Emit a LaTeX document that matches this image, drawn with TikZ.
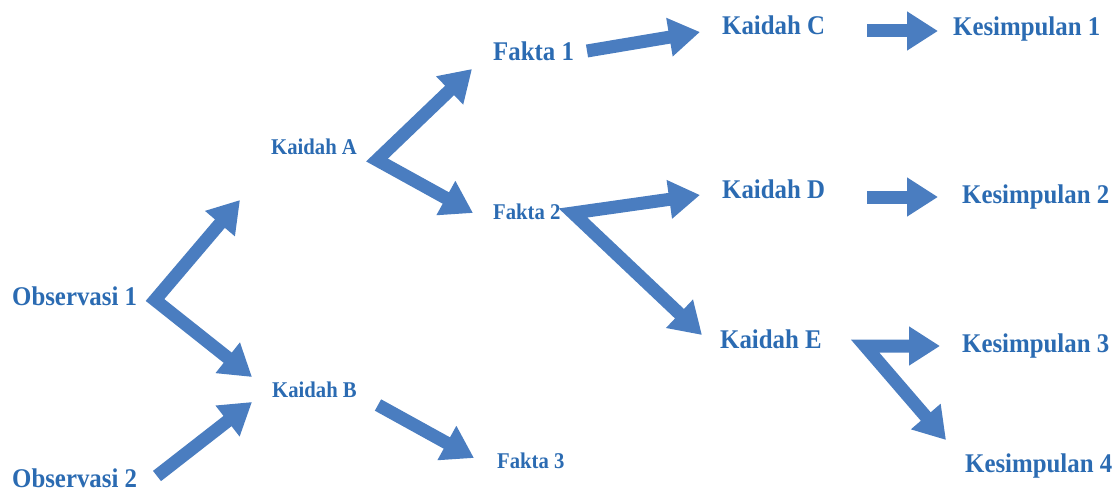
\documentclass[tikz,border=0pt]{standalone}
\usepackage{fontspec}
\setmainfont{Liberation Serif}[FakeStretch=0.92]
\usetikzlibrary{arrows.meta}
\definecolor{txtblue}{HTML}{2B6BB2}
\definecolor{arrblue}{HTML}{4A7DC0}
\tikzset{
  lbl/.style={anchor=base west, inner sep=0pt, text=txtblue, font=\fontsize{27}{32}\selectfont\bfseries},
  lblsmall/.style={lbl, font=\fontsize{22.5}{27}\selectfont\bfseries},
  fat/.style={draw=arrblue, line width=13pt, line join=miter, miter limit=4},
  fatto/.style={fat, -{Triangle[width=37pt,length=31pt]}},
  fatboth/.style={fat, {Triangle[width=37pt,length=31pt]}-{Triangle[width=37pt,length=31pt]}}
}
\begin{document}
\begin{tikzpicture}[x=1pt,y=-1pt]
\useasboundingbox (0,0) rectangle (1119,492);
% labels
\node[lbl] (obs1) at (12,305) {Observasi 1};
\node[lbl] (obs2) at (12,487) {Observasi 2};
\node[lblsmall] (ka) at (271,154) {Kaidah A};
\node[lblsmall] (kb) at (272,397) {Kaidah B};
\node[lbl] (f1) at (493,61) {Fakta 1};
\node[lblsmall] (f2) at (493,219) {Fakta 2};
\node[lblsmall] (f3) at (497,468) {Fakta 3};
\node[lbl] (kc) at (722,35) {Kaidah C};
\node[lbl] (kd) at (722,198) {Kaidah D};
\node[lbl] (ke) at (720,348) {Kaidah E};
\node[lbl] (s1) at (953,36) {Kesimpulan 1};
\node[lbl] (s2) at (962,203) {Kesimpulan 2};
\node[lbl] (s3) at (962,352) {Kesimpulan 3};
\node[lbl] (s4) at (965,472) {Kesimpulan 4};
% arrow end points
\coordinate (e1) at (155,300);
\coordinate (t1a) at (240,200);
\coordinate (t1b) at (252,377);
\coordinate (o2t) at (157,476);
\coordinate (t2) at (252,402);
\coordinate (e2) at (377,160);
\coordinate (t3a) at (472,69);
\coordinate (t3b) at (473,213);
\coordinate (f1t) at (587,51);
\coordinate (t4) at (700,32);
\coordinate (e3) at (573,213);
\coordinate (t5a) at (700,195);
\coordinate (t5b) at (702,335);
\coordinate (kbt) at (378,405);
\coordinate (t6) at (474,458);
\coordinate (kct) at (867,31);
\coordinate (t7) at (938,31);
\coordinate (kdt) at (867,197);
\coordinate (t8) at (938,197);
\coordinate (e4) at (865,346);
\coordinate (t9a) at (940,346);
\coordinate (t9b) at (946,440);
% arrows
\draw[fatboth] (t1a) -- (e1) -- (t1b);
\draw[fatto] (o2t) -- (t2);
\draw[fatboth] (t3a) -- (e2) -- (t3b);
\draw[fatto] (f1t) -- (t4);
\draw[fatboth] (t5a) -- (e3) -- (t5b);
\draw[fatto] (kbt) -- (t6);
\draw[fatto] (kct) -- (t7);
\draw[fatto] (kdt) -- (t8);
\draw[fatboth] (t9a) -- (e4) -- (t9b);
\end{tikzpicture}
\end{document}
